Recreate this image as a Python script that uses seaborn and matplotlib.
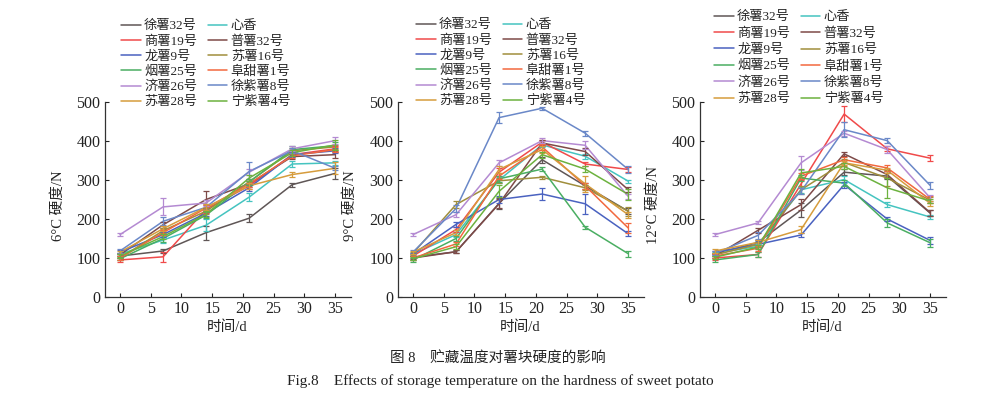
import matplotlib
matplotlib.use("Agg")
import matplotlib.pyplot as plt
import seaborn as sns
import pandas as pd

days = [0, 7, 14, 21, 28, 35]
varieties = ["徐薯32号", "心香", "商薯19号", "普薯32号", "龙薯9号", "苏薯16号",
             "烟薯25号", "阜甜薯1号", "济薯26号", "徐紫薯8号", "苏薯28号", "宁紫薯4号"]
colors = ["#5f5656", "#45c4c0", "#f04a4a", "#7e4a48", "#4a62c0", "#a08e3c",
          "#4aae62", "#f2683e", "#b48ad2", "#6a88c8", "#d69c3c", "#6cb23e"]

hard6 = {
    "徐薯32号": [105, 118, 165, 202, 288, 317],
    "心香": [110, 146, 184, 256, 341, 344],
    "商薯19号": [95, 103, 225, 285, 365, 380],
    "普薯32号": [108, 185, 250, 290, 360, 365],
    "龙薯9号": [115, 160, 215, 280, 365, 375],
    "苏薯16号": [100, 170, 220, 295, 375, 385],
    "烟薯25号": [98, 150, 210, 295, 378, 388],
    "阜甜薯1号": [100, 165, 228, 290, 362, 378],
    "济薯26号": [160, 231, 241, 320, 380, 401],
    "徐紫薯8号": [118, 194, 230, 322, 375, 330],
    "苏薯28号": [115, 175, 230, 285, 314, 330],
    "宁紫薯4号": [105, 155, 212, 305, 370, 390],
}
err6 = {
    "徐薯32号": [4, 5, 18, 10, 5, 15],
    "心香": [4, 8, 15, 10, 8, 5],
    "商薯19号": [4, 12, 10, 8, 6, 6],
    "普薯32号": [4, 8, 22, 8, 6, 8],
    "龙薯9号": [5, 6, 8, 8, 6, 6],
    "苏薯16号": [4, 6, 8, 8, 8, 6],
    "烟薯25号": [4, 8, 8, 8, 8, 10],
    "阜甜薯1号": [4, 6, 8, 8, 6, 6],
    "济薯26号": [4, 22, 8, 8, 6, 8],
    "徐紫薯8号": [5, 10, 8, 25, 6, 5],
    "苏薯28号": [4, 6, 8, 8, 6, 15],
    "宁紫薯4号": [4, 6, 8, 8, 8, 12],
}

hard9 = {
    "徐薯32号": [102, 116, 240, 352, 285, 220],
    "心香": [110, 160, 300, 390, 361, 297],
    "商薯19号": [105, 173, 320, 397, 341, 327],
    "普薯32号": [100, 116, 239, 395, 373, 275],
    "龙薯9号": [110, 186, 250, 264, 239, 162],
    "苏薯16号": [112, 237, 298, 307, 280, 220],
    "烟薯25号": [95, 150, 303, 328, 179, 111],
    "阜甜薯1号": [100, 136, 310, 385, 285, 177],
    "济薯26号": [160, 211, 344, 401, 389, 258],
    "徐紫薯8号": [115, 227, 460, 484, 420, 327],
    "苏薯28号": [115, 165, 327, 378, 290, 211],
    "宁紫薯4号": [98, 129, 271, 365, 328, 263],
}
err9 = {
    "徐薯32号": [4, 4, 15, 8, 8, 8],
    "心香": [4, 6, 8, 6, 6, 4],
    "商薯19号": [4, 6, 10, 6, 6, 6],
    "普薯32号": [4, 4, 12, 8, 10, 6],
    "龙薯9号": [4, 6, 8, 15, 25, 6],
    "苏薯16号": [4, 8, 6, 4, 6, 12],
    "烟薯25号": [4, 6, 8, 6, 4, 8],
    "阜甜薯1号": [4, 4, 8, 8, 8, 12],
    "济薯26号": [4, 6, 8, 6, 10, 6],
    "徐紫薯8号": [5, 10, 15, 4, 6, 8],
    "苏薯28号": [4, 6, 8, 8, 20, 8],
    "宁紫薯4号": [4, 6, 15, 8, 8, 15],
}

hard12 = {
    "徐薯32号": [110, 140, 223, 320, 310, 215],
    "心香": [112, 130, 275, 301, 237, 205],
    "商薯19号": [100, 109, 290, 469, 380, 356],
    "普薯32号": [105, 171, 237, 367, 314, 216],
    "龙薯9号": [115, 135, 159, 288, 200, 145],
    "苏薯16号": [108, 135, 275, 345, 305, 248],
    "烟薯25号": [95, 109, 305, 292, 190, 139],
    "阜甜薯1号": [105, 125, 310, 352, 331, 250],
    "济薯26号": [160, 190, 344, 420, 378, 254],
    "徐紫薯8号": [112, 158, 271, 429, 401, 286],
    "苏薯28号": [118, 140, 173, 344, 325, 240],
    "宁紫薯4号": [102, 128, 318, 335, 280, 246],
}
err12 = {
    "徐薯32号": [4, 6, 18, 8, 8, 8],
    "心香": [4, 6, 8, 8, 6, 6],
    "商薯19号": [4, 6, 10, 20, 6, 8],
    "普薯32号": [4, 6, 15, 6, 8, 8],
    "龙薯9号": [4, 8, 6, 8, 6, 10],
    "苏薯16号": [4, 6, 10, 8, 20, 8],
    "烟薯25号": [4, 6, 8, 8, 10, 10],
    "阜甜薯1号": [4, 6, 8, 8, 8, 8],
    "济薯26号": [4, 4, 18, 6, 8, 8],
    "徐紫薯8号": [5, 8, 8, 20, 6, 10],
    "苏薯28号": [4, 6, 8, 6, 6, 6],
    "宁紫薯4号": [4, 6, 10, 8, 25, 6],
}

ylabels = ["6°C 硬度/N", "9°C 硬度/N", "12°C 硬度/N"]
yticks = [0, 100, 200, 300, 400, 500]
xticks = [0, 5, 10, 15, 20, 25, 30, 35]

sns.set_theme(style="ticks")
plt.rcParams["font.family"] = ["Liberation Serif", "Noto Sans CJK SC"]
plt.rcParams["axes.unicode_minus"] = False

W, H = 993, 399
fig = plt.figure(figsize=(W / 100, H / 100), dpi=100)

lefts = [104.6, 397.6, 699.6]
ylabel_x = [65, 357, 660]
legend_pos = [(121, 20), (416, 19), (714, 11)]
legend_sp = [0.22, 0.22, 0.31]
palette = dict(zip(varieties, colors))

for i, (hard, err) in enumerate([(hard6, err6), (hard9, err9), (hard12, err12)]):
    ax = fig.add_axes([lefts[i] / W, (H - 297) / H, 246 / W, 195 / H])
    rows = []
    for v in varieties:
        for d, val, e in zip(days, hard[v], err[v]):
            rows.append({"day": d, "hard": val, "err": e, "variety": v})
    df = pd.DataFrame(rows)
    sns.lineplot(data=df, x="day", y="hard", hue="variety", hue_order=varieties,
                 palette=palette, linewidth=1.1, ax=ax, legend=True, errorbar=None)
    for v in varieties:
        sub = df[df["variety"] == v]
        ax.errorbar(sub["day"], sub["hard"], yerr=sub["err"], fmt="none",
                    ecolor=palette[v], elinewidth=0.9, capsize=2.2, capthick=0.9)
    ax.set_xlim(-2.5, 37.5)
    ax.set_ylim(0, 500)
    ax.set_xticks(xticks)
    ax.set_yticks(yticks)
    ax.tick_params(direction="in", length=3, width=0.8, labelsize=11.5, pad=3,
                   colors="#222222")
    for s in ["top", "right"]:
        ax.spines[s].set_visible(False)
    for s in ["left", "bottom"]:
        ax.spines[s].set_linewidth(0.9)
        ax.spines[s].set_color("#333333")
    ax.set_xlabel("时间/d", fontsize=10.5, color="#222222")
    ax.set_ylabel(ylabels[i], fontsize=10.5, color="#222222")
    ax.xaxis.set_label_coords(0.5, -0.12)
    ax.yaxis.set_label_coords(-(lefts[i] - ylabel_x[i]) / 246, 0.47)
    handles, labels = ax.get_legend_handles_labels()
    ax.get_legend().remove()
    order = list(range(0, 12, 2)) + list(range(1, 12, 2))
    handles = [handles[k] for k in order]
    labels = [labels[k] for k in order]
    lx, ly = legend_pos[i]
    fig.legend(handles, labels, ncol=2, loc="upper left",
               bbox_to_anchor=(lx / W, 1 - ly / H), bbox_transform=fig.transFigure,
               frameon=False, fontsize=9.5, handlelength=1.5, handletextpad=0.25,
               columnspacing=0.8, labelspacing=legend_sp[i], borderpad=0,
               borderaxespad=0)

fig.text(498 / W, 1 - 358 / H, "图 8　贮藏温度对薯块硬度的影响", ha="center", va="center",
         fontsize=10.5, color="#222222")
fig.text(500 / W, 1 - 381 / H, "Fig.8　Effects of storage temperature on the hardness of sweet potato",
         ha="center", va="center", fontsize=11, color="#222222")

fig.savefig("out.png", dpi=100)
